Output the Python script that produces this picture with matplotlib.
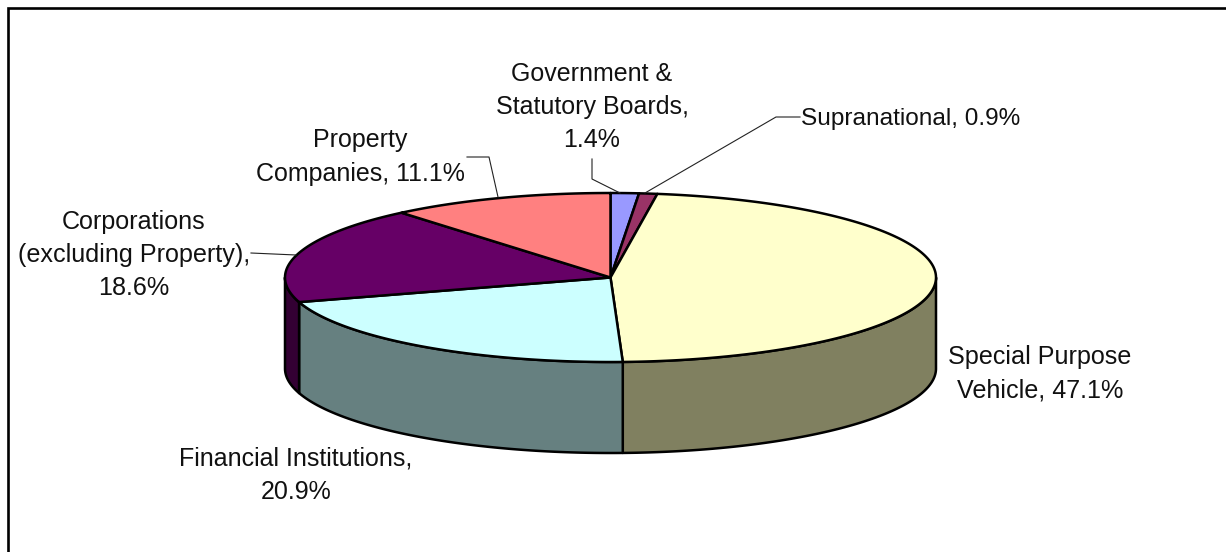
import numpy as np
import matplotlib
matplotlib.use('Agg')
import matplotlib.pyplot as plt

# slices, clockwise from 12 o'clock
names = ['Government &\nStatutory Boards,\n1.4%', 'Supranational, 0.9%',
         'Special Purpose\nVehicle, 47.1%', 'Financial Institutions,\n20.9%',
         'Corporations\n(excluding Property),\n18.6%', 'Property\nCompanies, 11.1%']
shares = [1.4, 0.9, 47.1, 20.9, 18.6, 11.1]
top_colors = ['#9999FF', '#993366', '#FFFFCC', '#CCFFFF', '#660066', '#FF8080']
wall_colors = ['#666688', '#662244', '#808060', '#668080', '#330033', '#804040']

# label anchor positions, pixels
label_x = [592, 801, 1040, 296, 134, 360]
label_y = [107, 119, 374, 475, 255, 157]
label_ha = ['center', 'left', 'center', 'center', 'center', 'center']
label_size = [18.0, 17.6, 18.1, 18.0, 18.1, 18.0]

# pie geometry, pixels
cx, cy = 610.5, 277.5
rx, ry = 325.5, 84.5
depth = 91

plt.rcParams['font.family'] = ['Liberation Sans']
fig = plt.figure(figsize=(12.26, 5.52), dpi=100)
ax = fig.add_axes([0, 0, 1, 1])
ax.set_xlim(0, 1226)
ax.set_ylim(552, 0)
ax.axis('off')


def arc(a0, a1):
    t = np.radians(np.linspace(a0, a1, 200))
    return cx + rx * np.sin(t), cy - ry * np.cos(t)


edges = np.cumsum([0] + shares) / np.sum(shares) * 360

# chart frame, runs off the picture on the right and bottom
ax.plot([8, 8, 1226], [552, 8, 8], color='black', lw=1.9, solid_joinstyle='miter')

# side walls, only the front half of the rim shows
for i in range(len(shares)):
    a0 = max(edges[i], 90)
    a1 = min(edges[i + 1], 270)
    if a1 <= a0:
        continue
    x, y = arc(a0, a1)
    ax.fill(np.r_[x, x[::-1]], np.r_[y, y[::-1] + depth], facecolor=wall_colors[i],
            edgecolor='black', lw=1.8, joinstyle='round', zorder=2)

# top face
for i in range(len(shares)):
    x, y = arc(edges[i], edges[i + 1])
    ax.fill(np.r_[cx, x], np.r_[cy, y], facecolor=top_colors[i],
            edgecolor='black', lw=1.8, joinstyle='round', zorder=3)

# leader lines
leader_color = '#222222'
ax.plot([592, 592, 620], [159, 179, 193], color=leader_color, lw=0.8, zorder=4)
ax.plot([800, 776, 645], [117, 117, 193], color=leader_color, lw=0.8, zorder=4)
ax.plot([251, 296], [253, 255], color=leader_color, lw=0.8, zorder=4)
ax.plot([467, 489, 498], [157, 157, 197], color=leader_color, lw=0.8, zorder=4)

for name, lx, ly, ha, size in zip(names, label_x, label_y, label_ha, label_size):
    ax.text(lx, ly, name, ha=ha, va='center', multialignment='center',
            fontsize=size, linespacing=1.485, color='#111111', zorder=5)

fig.savefig('out.png', dpi=100, facecolor='white')
